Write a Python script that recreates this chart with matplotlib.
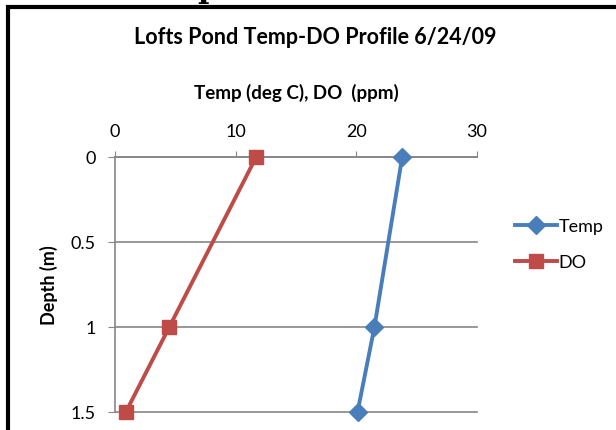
import matplotlib
matplotlib.use('Agg')
import matplotlib.pyplot as plt
from matplotlib.patches import Rectangle

# data
depth = [0, 1, 1.5]
temp = [23.8, 21.5, 20.1]
do_ppm = [11.7, 4.5, 0.9]
x_ticks = [0, 10, 20, 30]
y_ticks = [0, 0.5, 1, 1.5]
y_tick_labels = ['0', '0.5', '1', '1.5']

plt.rcParams['font.family'] = ['Lato', 'DejaVu Sans']

W, H = 616, 431
fig = plt.figure(figsize=(W / 100, H / 100), dpi=100)

# chart frame (black border, cropped at right and bottom)
fig.patches.append(Rectangle((8 / W, -0.1), 1.2, (H - 8) / H + 0.1,
                             transform=fig.transFigure, fill=False,
                             edgecolor='black', linewidth=3))
# descender of text above the chart
fig.text(208 / W, 1 - (-3) / H, 'p', family='serif', weight='bold',
         fontsize=22, ha='center', va='baseline')

ax = fig.add_axes([115 / W, 1 - 413 / H, (477 - 115) / W, (413 - 158) / H])

grid_col = '#868686'
ax.plot(temp, depth, color='#4A7EBB', linewidth=2.8, marker='D',
        markersize=9, label='Temp', clip_on=False, zorder=3)
ax.plot(do_ppm, depth, color='#BE4B48', linewidth=2.8, marker='s',
        markersize=10, label='DO', clip_on=False, zorder=3)

ax.set_xlim(0, 30)
ax.set_ylim(1.5, 0)
ax.set_xticks(x_ticks)
ax.set_yticks(y_ticks)
ax.set_yticklabels(y_tick_labels)
ax.xaxis.tick_top()
ax.xaxis.set_label_position('top')
ax.tick_params(axis='x', direction='out', length=4, color=grid_col,
               pad=9, labelsize=13)
ax.tick_params(axis='y', direction='out', length=5, color=grid_col,
               pad=9, labelsize=13)
ax.yaxis.grid(True, color=grid_col, linewidth=1.2)
for gl in ax.get_ygridlines():
    gl.set_clip_on(False)
ax.set_axisbelow(True)
for s in ['right', 'bottom']:
    ax.spines[s].set_visible(False)
ax.spines['top'].set_color(grid_col)
ax.spines['left'].set_color(grid_col)
ax.spines['top'].set_linewidth(1.2)
ax.spines['left'].set_linewidth(1.2)

ax.set_xlabel('Temp (deg C), DO  (ppm)', fontsize=13.5, fontweight='bold',
              labelpad=18)
ax.set_ylabel('Depth (m)', fontsize=13, fontweight='bold', labelpad=9)
fig.text(315 / W, 1 - 38 / H, 'Lofts Pond Temp-DO Profile 6/24/09',
         fontsize=15.5, fontweight='bold', ha='center', va='center')

ax.legend(loc='center left', bbox_to_anchor=(515 / W, 1 - 245 / H),
          bbox_transform=fig.transFigure, frameon=False, fontsize=13,
          handlelength=2.3, handletextpad=0.1, labelspacing=1.1,
          borderaxespad=0, borderpad=0)

fig.savefig('out.png', dpi=100)
